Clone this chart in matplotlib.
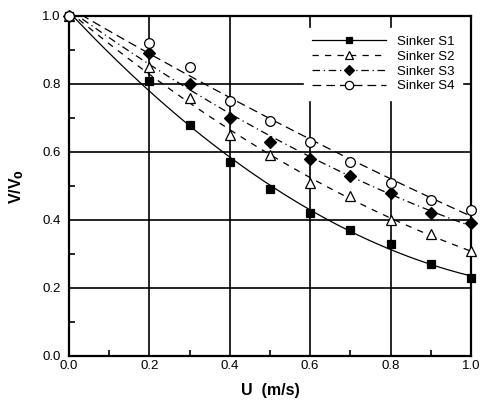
import numpy as np
import matplotlib
matplotlib.use("Agg")
import matplotlib.pyplot as plt
from matplotlib.ticker import MultipleLocator

plt.rcParams['font.family'] = ['Liberation Sans', 'DejaVu Sans']

# Flow speed (m/s) and relative volume for each sinker
u = [0.0, 0.2, 0.3, 0.4, 0.5, 0.6, 0.7, 0.8, 0.9, 1.0]
s1 = [1.00, 0.81, 0.68, 0.57, 0.49, 0.42, 0.37, 0.33, 0.27, 0.23]
s2 = [1.00, 0.85, 0.76, 0.65, 0.59, 0.51, 0.47, 0.40, 0.36, 0.31]
s3 = [1.00, 0.89, 0.80, 0.70, 0.63, 0.58, 0.53, 0.48, 0.42, 0.39]
s4 = [1.00, 0.92, 0.85, 0.75, 0.69, 0.63, 0.57, 0.51, 0.46, 0.43]
labels = ["Sinker S1", "Sinker S2", "Sinker S3", "Sinker S4"]

fig = plt.figure(figsize=(4.81, 4.0), dpi=100)
ax = fig.add_axes([0.1435, 0.11, 0.8355, 0.85])

styles = [
    dict(marker='s', ls='-', mfc='black', ms=6),
    dict(marker='^', ls=(0, (5, 5)), mfc='white', ms=7),
    dict(marker='D', ls=(0, (6, 3, 1, 3)), mfc='black', ms=6),
    dict(marker='o', ls=(0, (7, 4)), mfc='white', ms=7),
]

xs = np.linspace(0, 1, 200)
handles = []
for y, lab, st in zip([s1, s2, s3, s4], labels, styles):
    coef = np.polyfit(u, y, 2)
    ax.plot(xs, np.polyval(coef, xs), color='black', lw=0.9, ls=st['ls'], zorder=3)
    ax.plot(u, y, ls='none', marker=st['marker'], mfc=st['mfc'], mec='black',
            mew=0.9, ms=st['ms'], zorder=4, clip_on=False)
    h, = ax.plot([], [], color='black', lw=0.9, ls=st['ls'], marker=st['marker'],
                 mfc=st['mfc'], mec='black', mew=0.9, ms=st['ms'] - 1)
    handles.append(h)

ax.set_xlim(0, 1.0)
ax.set_ylim(0, 1.0)
ax.xaxis.set_major_locator(MultipleLocator(0.2))
ax.yaxis.set_major_locator(MultipleLocator(0.2))
ax.xaxis.set_minor_locator(MultipleLocator(0.1))
ax.yaxis.set_minor_locator(MultipleLocator(0.1))
ax.set_xticklabels([f"{v:.1f}" for v in ax.get_xticks()])
ax.set_yticklabels([f"{v:.1f}" for v in ax.get_yticks()])
ax.tick_params(which='both', direction='in', labelsize=9.5, width=1.2)
ax.tick_params(which='major', length=0)
ax.tick_params(axis='x', which='major', pad=3)
ax.tick_params(axis='y', which='major', pad=6)
ax.tick_params(which='minor', length=4)
ax.grid(True, which='major', color='black', lw=1.2)
for sp in ax.spines.values():
    sp.set_linewidth(1.6)

ax.set_xlabel("U  (m/s)", fontsize=11.5, fontweight='bold', labelpad=8)
ax.set_ylabel("V/V$_\\mathbf{0}$", fontsize=11.5, fontweight='bold', labelpad=12)

leg = ax.legend(handles, labels, loc='upper right', bbox_to_anchor=(0.995, 0.985),
                frameon=True, fontsize=9.5, handlelength=5.6, labelspacing=0.2,
                borderpad=0.6, handletextpad=0.8, fancybox=False)
leg.get_frame().set_edgecolor('white')
leg.get_frame().set_facecolor('white')
leg.get_frame().set_alpha(1)
leg.set_zorder(5)

fig.savefig("out.png", dpi=100)
